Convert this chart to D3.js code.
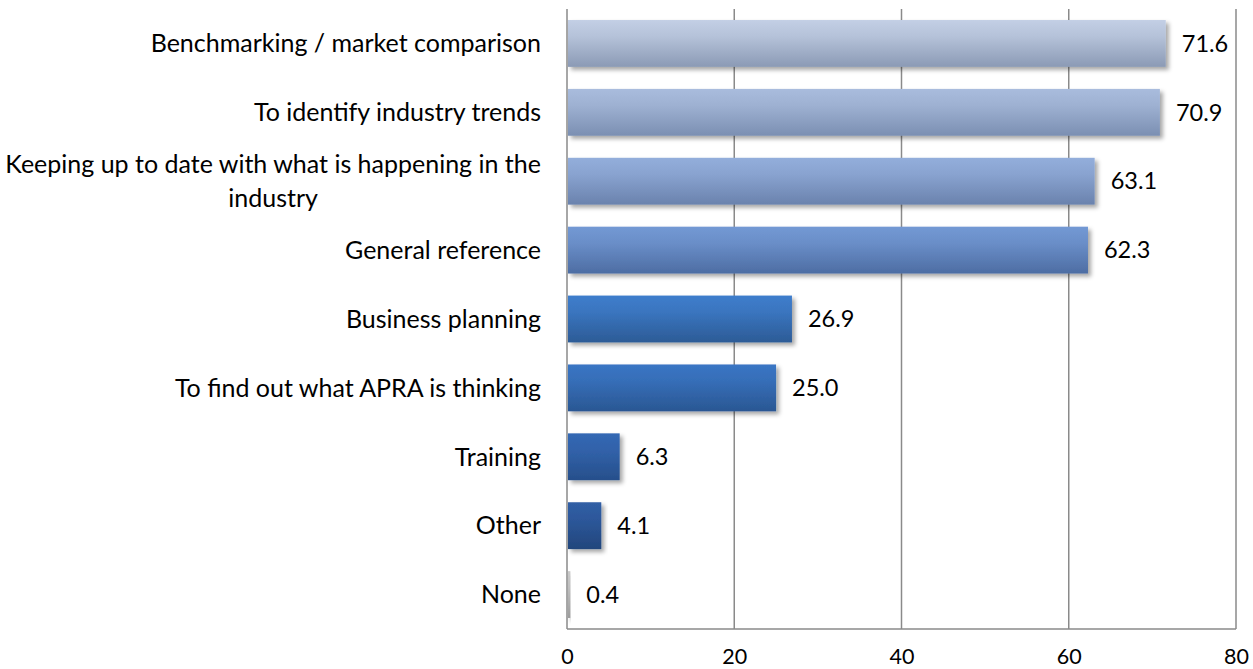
<!DOCTYPE html>
<html>
<head>
<meta charset="utf-8">
<script src="https://cdn.jsdelivr.net/npm/d3@7"></script>
<style>
  html, body { margin: 0; padding: 0; background: #fff; }
  svg { display: block; }
  text { font-family: Lato, "Open Sans", sans-serif; fill: #000; }
</style>
</head>
<body>
<svg id="chart" width="1253" height="669"></svg>
<script>
// Reasons for using the publication (% of respondents)
const categories = [
  "Benchmarking / market comparison",
  "To identify industry trends",
  "Keeping up to date with what is happening in the industry",
  "General reference",
  "Business planning",
  "To find out what APRA is thinking",
  "Training",
  "Other",
  "None"
];
const values = [71.6, 70.9, 63.1, 62.3, 26.9, 25.0, 6.3, 4.1, 0.4];
const xTicks = [0, 20, 40, 60, 80];

// Gradient stops (top, bottom) for each bar
const barTop    = ["#c3cfe5", "#a9bcdd", "#93aedb", "#7399d4", "#3e7dcc", "#3a75c4", "#3468b4", "#305ea5", "#cacaca"];
const barBottom = ["#8b9ab5", "#7b8fb2", "#6a82ad", "#4d6da3", "#2c5b96", "#2a5793", "#274f8b", "#22467c", "#9c9c9c"];

const svg = d3.select("#chart");
const plotLeft = 567, plotRight = 1236, plotTop = 9, plotBottom = 629;

const x = d3.scaleLinear().domain([0, 80]).range([plotLeft, plotRight]);
const y = d3.scaleBand().domain(categories).range([plotTop, plotBottom])
  .paddingInner(0.32).paddingOuter(0.16);

const defs = svg.append("defs");
categories.forEach((c, i) => {
  const g = defs.append("linearGradient").attr("id", "grad" + i)
    .attr("x1", 0).attr("y1", 0).attr("x2", 0).attr("y2", 1);
  g.append("stop").attr("offset", "0%").attr("stop-color", barTop[i]);
  g.append("stop").attr("offset", "35%").attr("stop-color", d3.interpolateRgb(barTop[i], barBottom[i])(0.25));
  g.append("stop").attr("offset", "100%").attr("stop-color", barBottom[i]);
});
const shadow = defs.append("filter").attr("id", "shadow")
  .attr("x", "-10%").attr("y", "-20%").attr("width", "130%").attr("height", "160%");
shadow.append("feDropShadow").attr("dx", 3).attr("dy", 3).attr("stdDeviation", 2)
  .attr("flood-color", "#000").attr("flood-opacity", 0.35);

// Vertical gridlines
svg.append("g").selectAll("line").data(xTicks).join("line")
  .attr("x1", d => x(d)).attr("x2", d => x(d))
  .attr("y1", plotTop).attr("y2", plotBottom)
  .attr("stroke", "#8a8a8a").attr("stroke-width", 1.5);

// Bottom axis line
svg.append("line").attr("x1", plotLeft).attr("x2", plotRight).attr("y1", plotBottom).attr("y2", plotBottom)
  .attr("stroke", "#8a8a8a").attr("stroke-width", 1.5);

// Tick labels
const xAxis = d3.axisBottom(x).tickValues(xTicks).tickSize(0).tickPadding(0).tickFormat(d3.format("d"));
const ax = svg.append("g").attr("transform", `translate(0,${plotBottom})`).call(xAxis);
ax.select(".domain").remove();
ax.selectAll("text").attr("font-family", "Lato, sans-serif").attr("font-size", 21.5)
  .attr("fill", "#000").attr("dy", null).attr("y", 35);

// Bars
svg.append("g").selectAll("rect").data(values).join("rect")
  .attr("x", x(0) + 1)
  .attr("y", (d, i) => y(categories[i]))
  .attr("width", d => Math.max(0, x(d) - x(0) - 1))
  .attr("height", y.bandwidth())
  .attr("fill", (d, i) => `url(#grad${i})`)
  .attr("filter", "url(#shadow)");

// Value labels
svg.append("g").selectAll("text").data(values).join("text")
  .attr("x", d => x(d) + 16)
  .attr("y", (d, i) => y(categories[i]) + y.bandwidth() / 2)
  .attr("dy", "0.35em")
  .attr("font-size", 23.5)
  .text(d => d.toFixed(1));

// Category labels (long ones wrap onto two centred lines)
const labelRight = 541;
const wrapAt = { "Keeping up to date with what is happening in the industry":
  ["Keeping up to date with what is happening in the", "industry"] };
const lg = svg.append("g");
categories.forEach(c => {
  const cy = y(c) + y.bandwidth() / 2;
  const lines = wrapAt[c] || [c];
  const t = lg.append("text").attr("font-size", 25);
  if (lines.length === 1) {
    t.attr("x", labelRight).attr("y", cy).attr("dy", "0.35em")
      .attr("text-anchor", "end").text(c);
  } else {
    t.attr("y", cy).attr("text-anchor", "middle");
    const spans = lines.map((ln, k) =>
      t.append("tspan").attr("x", 0).attr("dy", k === 0 ? "-0.33em" : "1.36em").text(ln));
    const w = d3.max(spans, s => s.node().getComputedTextLength());
    spans.forEach(s => s.attr("x", labelRight - w / 2));
  }
});
</script>
</body>
</html>
